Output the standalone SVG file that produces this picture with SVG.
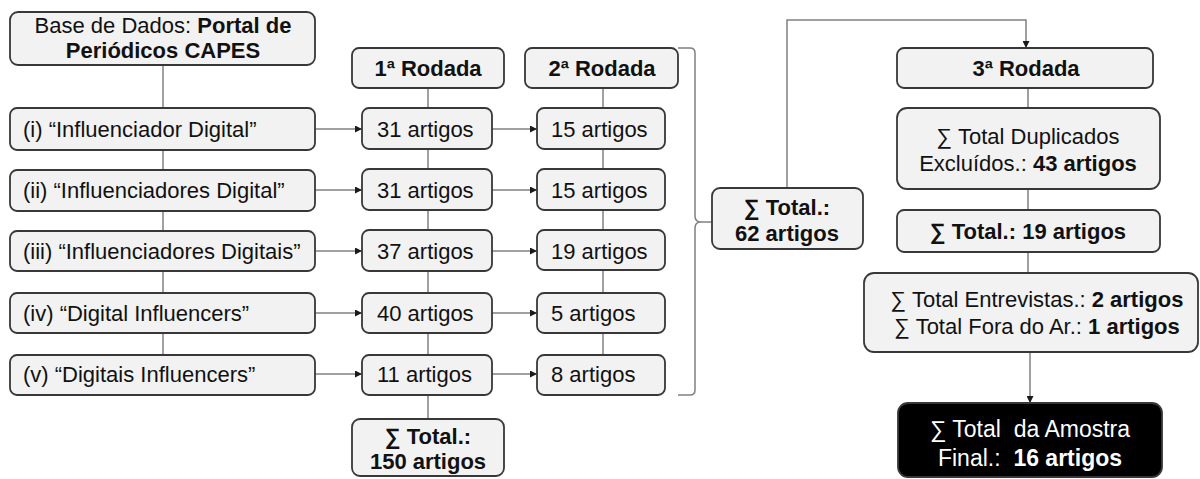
<svg xmlns="http://www.w3.org/2000/svg" width="1200" height="479" viewBox="0 0 1200 479">
<defs>
<marker id="arr" viewBox="0 0 10 10" refX="10" refY="5" markerWidth="7" markerHeight="7" markerUnits="userSpaceOnUse" orient="auto">
<path d="M0,0 L10,5 L0,10 z" fill="#1a1a1a"/>
</marker>
<style>
.box{fill:#f2f2f2;stroke:#383838;stroke-width:1.8}
.dark{fill:#000;stroke:#383838;stroke-width:1.8}
.t{font-family:"Liberation Sans",Arial,sans-serif;font-size:22px;fill:#111}
.c{text-anchor:middle}
.b{font-weight:bold}
.w{fill:#fff;font-size:23px;white-space:pre}
.ln{fill:none;stroke:#808080;stroke-width:1.5}
</style>
</defs>
<rect width="1200" height="479" fill="#fff"/>
<g id="connectors">
<path class="ln" d="M163,65 V354"/>
<path class="ln" d="M428,88 V419"/>
<path class="ln" d="M603,88 V354"/>
<path class="ln" d="M315,129 H362" marker-end="url(#arr)"/>
<path class="ln" d="M315,190 H362" marker-end="url(#arr)"/>
<path class="ln" d="M315,251 H362" marker-end="url(#arr)"/>
<path class="ln" d="M315,313 H362" marker-end="url(#arr)"/>
<path class="ln" d="M315,374 H362" marker-end="url(#arr)"/>
<path class="ln" d="M492,129 H537" marker-end="url(#arr)"/>
<path class="ln" d="M492,190 H537" marker-end="url(#arr)"/>
<path class="ln" d="M492,251 H537" marker-end="url(#arr)"/>
<path class="ln" d="M492,313 H537" marker-end="url(#arr)"/>
<path class="ln" d="M492,374 H537" marker-end="url(#arr)"/>
<path class="ln" d="M678,48 H690 Q695,48 695,53 V216 Q695,222 701,222 H712 M701,222 Q695,222 695,228 V390 Q695,395 690,395 H678"/>
<path class="ln" d="M787,188 V20 H1026 V48" marker-end="url(#arr)"/>
<path class="ln" d="M1028,88 V108 M1028,189 V210 M1028,252 V273"/>
<path class="ln" d="M1030,352 V403" marker-end="url(#arr)"/>
</g>
<g id="base">
<rect class="box" x="10" y="12" width="305" height="53" rx="8"/>
<text class="t c" x="163" y="33">Base de Dados: <tspan class="b">Portal de</tspan></text>
<text class="t c b" x="163" y="58">Periódicos CAPES</text>
</g>
<g id="q1"><rect class="box" x="10" y="108" width="305" height="42" rx="7"/><text class="t" x="23" y="137">(i) “Influenciador Digital”</text></g>
<g id="q2"><rect class="box" x="10" y="170" width="305" height="41" rx="7"/><text class="t" x="23" y="198">(ii) “Influenciadores Digital”</text></g>
<g id="q3"><rect class="box" x="10" y="231" width="305" height="40" rx="7"/><text class="t" x="23" y="259">(iii) “Influenciadores Digitais”</text></g>
<g id="q4"><rect class="box" x="10" y="293" width="305" height="40" rx="7"/><text class="t" x="23" y="321">(iv) “Digital Influencers”</text></g>
<g id="q5"><rect class="box" x="10" y="355" width="305" height="40" rx="7"/><text class="t" x="23" y="382">(v) “Digitais Influencers”</text></g>
<g id="r1"><rect class="box" x="352" y="48" width="152" height="40" rx="7"/><text class="t c b" x="428" y="76">1ª Rodada</text></g>
<g id="r2"><rect class="box" x="525" y="48" width="153" height="40" rx="7"/><text class="t c b" x="602" y="76">2ª Rodada</text></g>
<g id="a1"><rect class="box" x="362" y="108" width="130" height="41" rx="7"/><text class="t" x="377" y="137">31 artigos</text></g>
<g id="a2"><rect class="box" x="362" y="169" width="130" height="41" rx="7"/><text class="t" x="377" y="198">31 artigos</text></g>
<g id="a3"><rect class="box" x="362" y="230" width="130" height="41" rx="7"/><text class="t" x="377" y="259">37 artigos</text></g>
<g id="a4"><rect class="box" x="362" y="293" width="130" height="40" rx="7"/><text class="t" x="377" y="321">40 artigos</text></g>
<g id="a5"><rect class="box" x="362" y="355" width="130" height="40" rx="7"/><text class="t" x="377" y="382">11 artigos</text></g>
<g id="b1"><rect class="box" x="537" y="108" width="128" height="41" rx="7"/><text class="t" x="551" y="137">15 artigos</text></g>
<g id="b2"><rect class="box" x="537" y="169" width="128" height="41" rx="7"/><text class="t" x="551" y="198">15 artigos</text></g>
<g id="b3"><rect class="box" x="537" y="230" width="128" height="40" rx="7"/><text class="t" x="551" y="259">19 artigos</text></g>
<g id="b4"><rect class="box" x="537" y="293" width="128" height="40" rx="7"/><text class="t" x="551" y="321">5 artigos</text></g>
<g id="b5"><rect class="box" x="537" y="355" width="128" height="40" rx="7"/><text class="t" x="551" y="382">8 artigos</text></g>
<g id="total150"><rect class="box" x="352" y="419" width="152" height="57" rx="8"/><text class="t c b" x="428" y="444">∑ Total.:</text><text class="t c b" x="428" y="469">150 artigos</text></g>
<g id="total62"><rect class="box" x="712" y="188" width="151" height="61" rx="8"/><text class="t c b" x="787" y="215">∑ Total.:</text><text class="t c b" x="787" y="241">62 artigos</text></g>
<g id="r3"><rect class="box" x="897" y="48" width="256" height="40" rx="7"/><text class="t c b" x="1026" y="76">3ª Rodada</text></g>
<g id="dup"><rect class="box" x="897" y="108" width="263" height="81" rx="10"/><text class="t c" x="1028" y="144">∑ Total Duplicados</text><text class="t c" x="1028" y="171">Excluídos.: <tspan class="b">43 artigos</tspan></text></g>
<g id="total19"><rect class="box" x="897" y="210" width="263" height="42" rx="7"/><text class="t c b" x="1028" y="239">∑ Total.: 19 artigos</text></g>
<g id="entrev"><rect class="box" x="864" y="273" width="334" height="79" rx="10"/><text class="t c" x="1037" y="307">∑ Total Entrevistas.: <tspan class="b">2 artigos</tspan></text><text class="t c" x="1037" y="334">∑ Total Fora do Ar.: <tspan class="b">1 artigos</tspan></text></g>
<g id="final"><rect class="dark" x="898" y="403" width="264" height="74" rx="10"/><text class="t c w" x="1030" y="437">∑ Total  da Amostra</text><text class="t c w" x="1030" y="466">Final.:  <tspan class="b">16 artigos</tspan></text></g>
</svg>
